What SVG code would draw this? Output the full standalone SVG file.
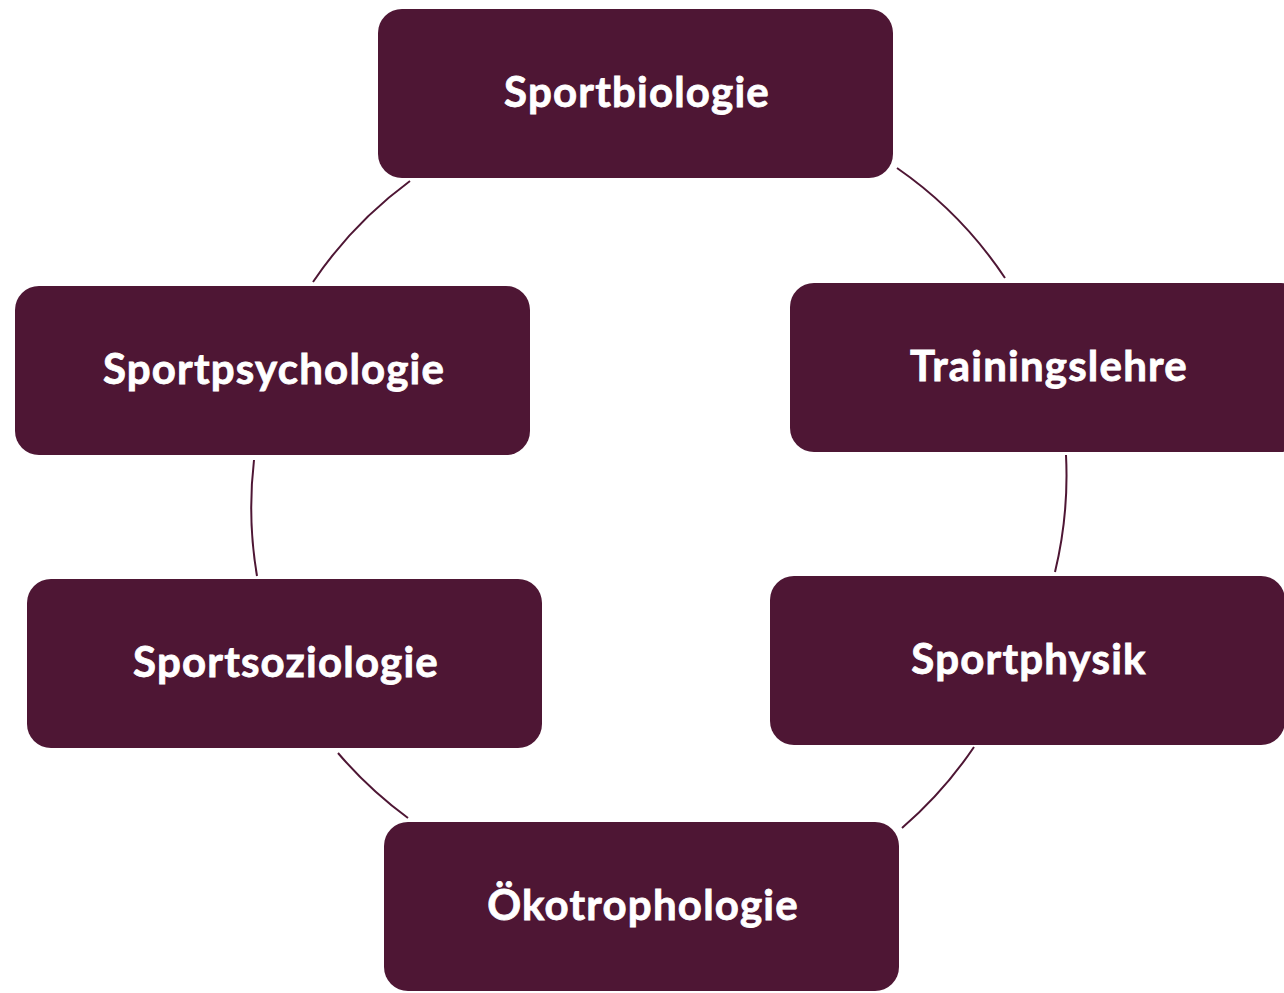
<svg xmlns="http://www.w3.org/2000/svg" width="1284" height="993" viewBox="0 0 1284 993">
<style>
.box{fill:#4e1634}
.lbl{fill:#ffffff;stroke:#ffffff;stroke-width:0.8;font-family:Lato,"Open Sans","Liberation Sans",sans-serif;font-weight:700;font-size:42px;letter-spacing:1.2px;text-anchor:middle}
.arc{fill:none;stroke:#4e1634;stroke-width:2}
</style>
<rect width="1284" height="993" fill="#ffffff"/>
<g id="connectors">
<path class="arc" d="M410,181 A410,410 0 0 0 313,282"/>
<path class="arc" d="M897,168 A410,410 0 0 1 1005,278"/>
<path class="arc" d="M254,460 A410,410 0 0 0 257,576"/>
<path class="arc" d="M1066,455 A410,410 0 0 1 1055,572"/>
<path class="arc" d="M338,753 A410,410 0 0 0 408,818"/>
<path class="arc" d="M974,747 A410,410 0 0 1 902,828"/>
</g>
<g id="sportbiologie">
<rect class="box" x="378" y="9" width="515" height="169" rx="24"/>
<text class="lbl" x="637" y="107">Sportbiologie</text>
</g>
<g id="trainingslehre">
<rect class="box" x="790" y="283" width="515" height="169" rx="24"/>
<text class="lbl" x="1049" y="381">Trainingslehre</text>
</g>
<g id="sportpsychologie">
<rect class="box" x="15" y="286" width="515" height="169" rx="24"/>
<text class="lbl" x="274" y="384">Sportpsychologie</text>
</g>
<g id="sportsoziologie">
<rect class="box" x="27" y="579" width="515" height="169" rx="24"/>
<text class="lbl" x="286" y="677">Sportsoziologie</text>
</g>
<g id="sportphysik">
<rect class="box" x="770" y="576" width="515" height="169" rx="24"/>
<text class="lbl" x="1029" y="674">Sportphysik</text>
</g>
<g id="oekotrophologie">
<rect class="box" x="384" y="822" width="515" height="169" rx="24"/>
<text class="lbl" x="643" y="920">Ökotrophologie</text>
</g>
</svg>
